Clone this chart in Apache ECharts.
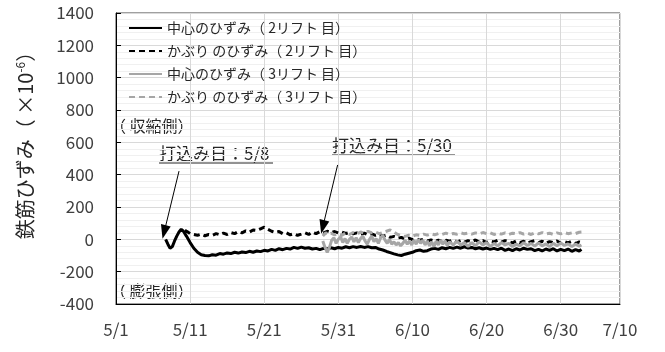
<!DOCTYPE html>
<html>
<head>
<meta charset="utf-8">
<script src="https://cdn.jsdelivr.net/npm/echarts@6/dist/echarts.min.js"></script>
<style>
html,body{margin:0;padding:0;background:#fff;}
#chart{width:665px;height:352px;}
</style>
</head>
<body>
<div id="chart"></div>
<script>
// x values are days after 5/1
const xLabels = ['5/1','5/11','5/21','5/31','6/10','6/20','6/30','7/10'];
const seriesNames = ['中心のひずみ（ 2リフト 目）','かぶり のひずみ（ 2リフト 目）','中心のひずみ（ 3リフト 目）','かぶり のひずみ（ 3リフト 目）'];

const center2 = [[6.7,0],[7.0,-30],[7.3,-55],[7.6,-45],[7.9,-10],[8.2,20],[8.5,45],[8.8,62],[9.1,50],[9.5,20],[10,-20],[10.5,-55],[11,-80],[11.5,-95],[12,-100],[12.5,-102],[13,-95],[13.5,-98],[14,-88],[14.5,-92],[15,-84],[15.5,-88],[16,-80],[16.5,-85],[17,-78],[17.5,-82],[18,-74],[18.5,-80],[19,-72],[19.5,-76],[20,-68],[20.5,-72],[21,-62],[21.5,-68],[22,-58],[22.5,-64],[23,-56],[23.5,-60],[24,-50],[24.5,-56],[25,-48],[25.5,-55],[26,-52],[26.5,-60],[27,-56],[27.5,-64],[28,-56],[28.5,-60],[29,-52],[29.5,-58],[30,-50],[30.5,-55],[31,-46],[31.5,-52],[32,-45],[32.5,-50],[33,-44],[33.5,-50],[34,-45],[34.5,-52],[35,-50],[35.5,-60],[36,-66],[36.5,-75],[37,-82],[37.5,-90],[38,-96],[38.5,-100],[39,-92],[39.5,-86],[40,-80],[40.5,-70],[41,-66],[41.5,-74],[42,-70],[42.5,-60],[43,-56],[43.5,-62],[44,-52],[44.5,-58],[45,-50],[45.5,-56],[46,-48],[46.5,-55],[47,-46],[47.5,-54],[48,-50],[48.5,-58],[49,-52],[49.5,-60],[50,-54],[50.5,-62],[51,-56],[51.5,-64],[52,-55],[52.5,-68],[53,-60],[53.5,-70],[54,-58],[54.5,-66],[55,-55],[55.5,-62],[56,-58],[56.5,-70],[57,-62],[57.5,-72],[58,-60],[58.5,-68],[59,-58],[59.5,-72],[60,-62],[60.5,-70],[61,-60],[61.5,-74],[62,-64],[62.5,-72],[62.8,-62]];

const cover2 = [[9.3,55],[9.7,45],[10,35],[10.5,30],[11,25],[11.5,32],[12,22],[12.5,30],[13,25],[13.5,35],[14,28],[14.5,38],[15,30],[15.5,42],[16,35],[16.5,48],[17,40],[17.5,52],[18,45],[18.5,58],[19,55],[19.5,65],[20,75],[20.5,62],[21,50],[21.5,42],[22,48],[22.5,35],[23,40],[23.5,28],[24,35],[24.5,25],[25,32],[25.5,40],[26,30],[26.5,45],[27,35],[27.5,48],[28,40],[28.5,50],[29,42],[29.5,48],[30,40],[30.5,45],[31,36],[31.5,42],[32,34],[32.5,40],[33,30],[33.5,38],[34,28],[34.5,34],[35,25],[35.5,30],[36,20],[36.5,25],[37,12],[37.5,18],[38,8],[38.5,12],[39,2],[39.5,8],[40,-2],[40.5,5],[41,-6],[41.5,0],[42,-10],[42.5,-4],[43,-12],[43.5,-5],[44,-14],[44.5,-6],[45,-12],[45.5,-4],[46,-16],[46.5,-8],[47,-18],[47.5,-8],[48,-14],[48.5,-4],[49,-16],[49.5,-8],[50,-20],[50.5,-10],[51,-16],[51.5,-6],[52,-18],[52.5,-8],[53,-14],[53.5,-22],[54,-10],[54.5,-20],[55,-12],[55.5,-24],[56,-14],[56.5,-8],[57,-20],[57.5,-12],[58,-24],[58.5,-14],[59,-20],[59.5,-10],[60,-24],[60.5,-14],[61,-22],[61.5,-12],[62,-26],[62.5,-16],[62.8,-20]];

const center3 = [[27.9,-10],[28.2,-50],[28.5,-80],[28.8,-50],[29.1,-5],[29.4,10],[29.7,-25],[30,0],[30.3,15],[30.6,-20],[30.9,5],[31.2,-25],[31.5,0],[31.8,15],[32.1,-15],[32.4,10],[32.7,-20],[33,5],[33.3,20],[33.6,-10],[33.9,-30],[34.2,0],[34.5,20],[34.8,-15],[35.1,5],[35.4,-25],[35.7,10],[36,25],[36.3,-5],[36.6,-25],[36.9,0],[37.2,-30],[37.5,-15],[37.8,-35],[38.1,-20],[38.4,-40],[38.7,-25],[39,-5],[39.3,-30],[39.6,-10],[39.9,-35],[40.2,-5],[40.5,-30],[40.8,0],[41.1,-25],[41.4,-5],[41.7,-35],[42,-10],[42.3,-40],[42.6,-15],[42.9,-45],[43.2,-10],[43.5,-35],[43.8,-5],[44.1,-30],[44.4,-10],[44.7,-40],[45,-15],[45.5,-35],[46,-10],[46.5,-35],[47,-20],[47.5,-45],[48,-20],[48.5,-40],[49,-15],[49.5,-35],[50,-20],[50.5,-45],[51,-25],[51.5,-40],[52,-20],[52.5,-35],[53,-25],[53.5,-45],[54,-30],[54.5,-40],[55,-20],[55.5,-38],[56,-25],[56.5,-42],[57,-22],[57.5,-40],[58,-28],[58.5,-45],[59,-25],[59.5,-40],[60,-22],[60.5,-38],[61,-28],[61.5,-45],[62,-30],[62.5,-42],[62.8,-35]];

const cover3 = [[27.9,20],[28.3,40],[28.7,30],[29,38],[29.5,28],[30,35],[30.5,25],[31,40],[31.5,30],[32,42],[32.5,32],[33,45],[33.5,38],[34,50],[34.5,40],[35,45],[35.5,35],[36,42],[36.5,50],[37,58],[37.5,45],[38,30],[38.5,22],[39,18],[39.5,25],[40,20],[40.5,28],[41,24],[41.5,32],[42,26],[42.5,34],[43,28],[43.5,35],[44,30],[44.5,38],[45,30],[45.5,36],[46,32],[46.5,40],[47,34],[47.5,38],[48,32],[48.5,40],[49,34],[49.5,42],[50,35],[50.5,40],[51,30],[51.5,38],[52,32],[52.5,40],[53,30],[53.5,38],[54,34],[54.5,42],[55,32],[55.5,38],[56,30],[56.5,40],[57,34],[57.5,42],[58,33],[58.5,38],[59,30],[59.5,40],[60,34],[60.5,42],[61,35],[61.5,40],[62,36],[62.5,44],[62.8,45]];

// annotation arrows [start, tip] in data coordinates
const arrow1 = [[8.5,422],[6.5,45]];
const arrow2 = [[29.9,460],[27.9,76]];

const FONT = '"Noto Sans CJK JP", "Noto Sans", sans-serif';
const chart = echarts.init(document.getElementById('chart'), null, {renderer:'canvas'});

function arrowLine(a){
  return [{coord:a[0], symbol:'none'},{coord:a[1], symbol:'triangle', symbolSize:[10,14]}];
}

chart.setOption({
  animation:false,
  backgroundColor:'#fff',
  textStyle:{fontFamily:FONT},
  grid:{left:116, right:45, top:13, bottom:48, show:true, borderColor:'#404040', borderWidth:1, backgroundColor:'transparent'},
  legend:{
    orient:'vertical', left:128, top:21, padding:0,
    itemWidth:33, itemHeight:14, itemGap:9,
    itemStyle:{opacity:0},
    textStyle:{fontSize:14, color:'#262626', fontFamily:FONT},
    data:seriesNames
  },
  xAxis:{
    type:'value', min:0, max:68, interval:10,
    axisLine:{onZero:false, lineStyle:{color:'#000', width:1}},
    axisTick:{show:false},
    axisLabel:{fontSize:17, color:'#404040', margin:17, fontFamily:FONT,
      formatter:function(v){ return xLabels[Math.round(v/10)] || ''; }},
    splitLine:{show:true, lineStyle:{color:'#d9d9d9', width:1}}
  },
  yAxis:{
    type:'value', min:-400, max:1400, interval:200,
    axisLine:{show:true, onZero:false, lineStyle:{color:'#000', width:1}},
    axisTick:{show:true, inside:true, length:5, lineStyle:{color:'#000'}},
    axisLabel:{fontSize:17, color:'#404040', margin:22, fontFamily:FONT,
      formatter:function(v){ return String(v); }},
    splitLine:{show:true, lineStyle:{color:'#d9d9d9', width:1}},
    minorTick:{show:false, splitNumber:5},
    minorSplitLine:{show:true, lineStyle:{color:'#f0f0f0', width:1}},
    name:'{a|鉄筋ひずみ（ ×10}{s|-6}{a|）}',
    nameLocation:'middle', nameRotate:90, nameGap:80,
    nameTextStyle:{
      padding:[0,0,0,36],
      rich:{
        a:{fontSize:20, color:'#262626', fontFamily:FONT, lineHeight:22},
        s:{fontSize:12, color:'#262626', fontFamily:FONT, verticalAlign:'top', lineHeight:22, padding:[0,0,8,0]}
      }
    }
  },
  series:[
    {name:seriesNames[0], type:'line', data:center2, showSymbol:false, symbol:'none',
     lineStyle:{color:'#000', width:3}, itemStyle:{color:'#000'},
     markLine:{silent:true, animation:false, label:{show:false},
       lineStyle:{color:'#000', width:1, type:'solid'},
       data:[arrowLine(arrow1), arrowLine(arrow2)]}},
    {name:seriesNames[1], type:'line', data:cover2, showSymbol:false, symbol:'none',
     lineStyle:{color:'#000', width:3, type:[6,4]}, itemStyle:{color:'#000'}},
    {name:seriesNames[2], type:'line', data:center3, showSymbol:false, symbol:'none',
     lineStyle:{color:'#a6a6a6', width:3}, itemStyle:{color:'#a6a6a6'}},
    {name:seriesNames[3], type:'line', data:cover3, showSymbol:false, symbol:'none',
     lineStyle:{color:'#a6a6a6', width:3, type:[6,4]}, itemStyle:{color:'#a6a6a6'}}
  ],
  graphic:[
    {type:'text', left:110, top:118, style:{text:'（ 収縮側）', font:'16px '+FONT, fill:'#262626'}},
    {type:'text', left:110, top:283, style:{text:'（ 膨張側）', font:'16px '+FONT, fill:'#262626'}},
    {type:'text', left:159, top:145, style:{text:'打込み日：5/8', font:'17px '+FONT, fill:'#262626'}},
    {type:'line', shape:{x1:159, y1:163, x2:273, y2:163}, style:{stroke:'#262626', lineWidth:1}},
    {type:'text', left:332, top:137, style:{text:'打込み日：5/30', font:'17px '+FONT, fill:'#262626'}},
    {type:'line', shape:{x1:332, y1:155, x2:455, y2:155}, style:{stroke:'#262626', lineWidth:1}}
  ]
});
</script>
</body>
</html>
